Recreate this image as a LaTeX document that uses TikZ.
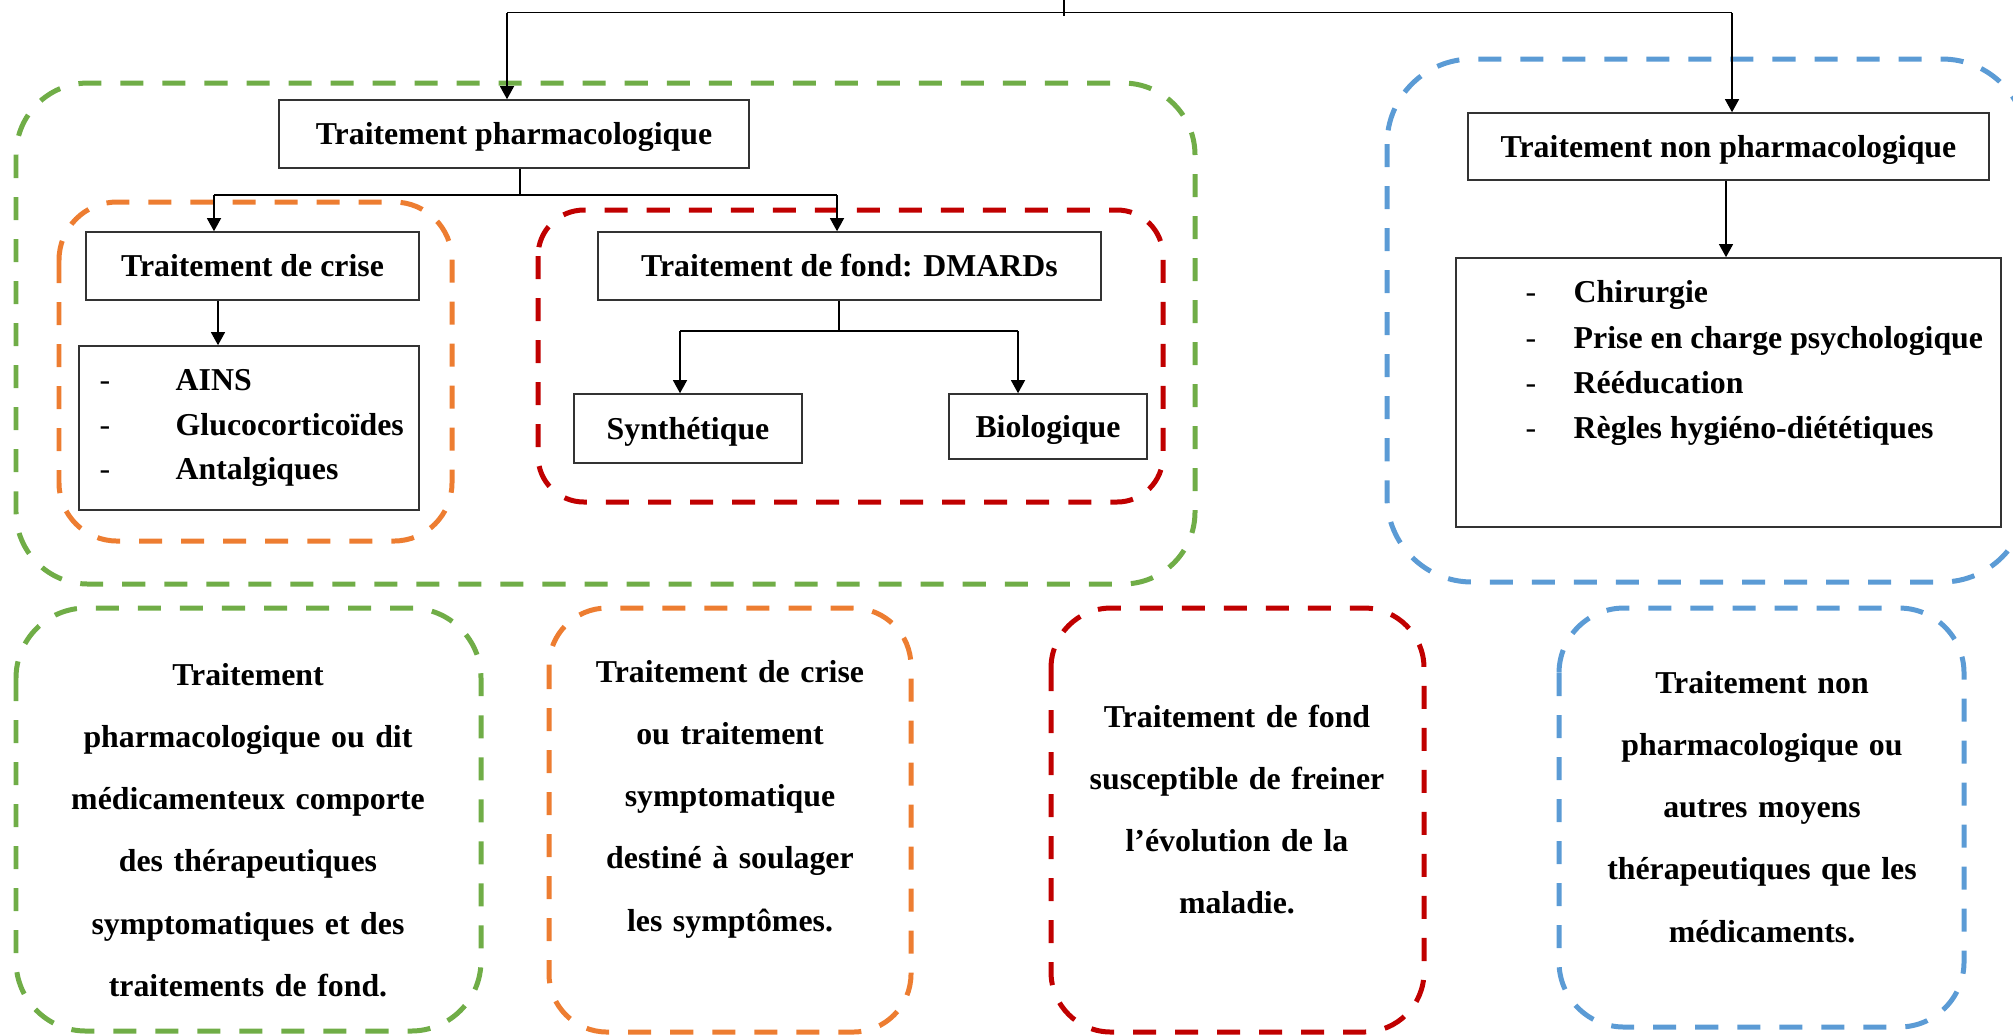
\documentclass[tikz,border=0pt]{standalone}
\usepackage{fontspec}
\setmainfont{Liberation Serif}
\usetikzlibrary{arrows.meta,calc}
\definecolor{cgreen}{HTML}{70AD47}
\definecolor{corange}{HTML}{ED7D31}
\definecolor{cred}{HTML}{C00000}
\definecolor{cblue}{HTML}{5B9BD5}

\begin{document}
\begin{tikzpicture}[x=0.01cm,y=-0.01cm,
  txt/.style={font=\fontsize{9.05pt}{12.8pt}\selectfont\bfseries, inner sep=0pt},
  box/.style={txt, draw=black!80, fill=white, line width=0.45pt,
              text height=0.21cm, text depth=0cm},
  group/.style={line width=1.42pt, dash pattern=on 0.23cm off 0.19cm},
  link/.style={line width=0.35pt, black},
  arrow/.style={link, -{Triangle[length=0.13cm,width=0.14cm]}},
  note/.style={inner sep=0pt, align=center, anchor=base,
               font=\fontsize{9.05pt}{17.7pt}\selectfont\bfseries},
  dashmark/.style={txt, anchor=base west, font=\fontsize{9.05pt}{12.8pt}\selectfont},
  item/.style={txt, anchor=base west},
]
\clip (0,0) rectangle (2013,1035);

% dashed groupings
\draw[group, cgreen,  rounded corners=0.72cm] (16,83)   rectangle (1195,584);
\draw[group, corange, rounded corners=0.58cm] (59,202)  rectangle (452,541);
\draw[group, cred,    rounded corners=0.46cm] (538,210) rectangle (1163,502);
\draw[group, cblue,   rounded corners=0.85cm] (1387,59) rectangle (2027,582);

\draw[group, cgreen,  rounded corners=0.70cm] (16,608)   rectangle (481,1031);
\draw[group, corange, rounded corners=0.58cm] (549,608)  rectangle (911,1032);
\draw[group, cred,    rounded corners=0.60cm] (1051,608) rectangle (1424,1032);
\draw[group, cblue,   rounded corners=0.65cm] (1559,608) rectangle (1964,1027);

% boxes
\node[box, minimum width=4.70cm, minimum height=0.68cm] (pharm)    at (514,134)    {Traitement pharmacologique};
\node[box, minimum width=3.33cm, minimum height=0.68cm] (crise)    at (252.5,266)  {Traitement de crise};
\node[box, minimum width=3.40cm, minimum height=1.64cm] (crlist)   at (249,428)    {};
\node[box, minimum width=5.03cm, minimum height=0.68cm] (dmards)   at (849.5,266)  {Traitement de fond: DMARDs};
\node[box, minimum width=2.28cm, minimum height=0.69cm] (synth)    at (688,428.5)  {Synthétique};
\node[box, minimum width=1.98cm, minimum height=0.65cm] (bio)      at (1048,426.5) {Biologique};
\node[box, minimum width=5.21cm, minimum height=0.67cm] (nonpharm) at (1728.5,146.5) {Traitement non pharmacologique};
\node[box, minimum width=5.45cm, minimum height=2.69cm] (nplist)   at (1728.5,392.5) {};

% list of crisis drugs
\node[dashmark] (cd1) at (99,390) {-};
\node[dashmark] (cd2) at (99,435) {-};
\node[dashmark] (cd3) at (99,479) {-};
\node[item] (ci1) at (175,390) {AINS};
\node[item] (ci2) at (175,435) {Glucocorticoïdes};
\node[item] (ci3) at (175,479) {Antalgiques};

% list of non drug treatments
\node[dashmark] (nd1) at (1525,302) {-};
\node[dashmark] (nd2) at (1525,348) {-};
\node[dashmark] (nd3) at (1525,393) {-};
\node[dashmark] (nd4) at (1525,438) {-};
\node[item] (ni1) at (1573,302) {Chirurgie};
\node[item] (ni2) at (1573,348) {Prise en charge psychologique};
\node[item] (ni3) at (1573,393) {Rééducation};
\node[item] (ni4) at (1573,438) {Règles hygiéno-diététiques};

% explanatory notes
\node[note, text width=4.4cm] (ngreen) at (248,685)
  {Traitement\\pharmacologique ou dit\\médicamenteux comporte\\des thérapeutiques\\symptomatiques et des\\traitements de fond.};
\node[note, text width=3.4cm] (norange) at (730,682)
  {Traitement de crise\\ou traitement\\symptomatique\\destiné à soulager\\les symptômes.};
\node[note, text width=3.5cm] (nred) at (1237,727)
  {Traitement de fond\\susceptible de freiner\\l’évolution de la\\maladie.};
\node[note, text width=3.9cm] (nblue) at (1762,693)
  {Traitement non\\pharmacologique ou\\autres moyens\\thérapeutiques que les\\médicaments.};

% top branching
\coordinate (jL) at (507,12.7);
\coordinate (jR) at (1732,12.7);
\coordinate (jT) at (1064,0);
\coordinate (jB) at (1064,16);
\draw[link] (jL) -- (jR);
\draw[link] (jT) -- (jB);
\draw[arrow] (jL) -- (jL |- pharm.north);
\draw[arrow] (jR) -- (jR |- nonpharm.north);

% pharmacological branching
\coordinate (pM) at (520,195);
\coordinate (pL) at (214,195);
\coordinate (pR) at (837,195);
\draw[link] (pM |- pharm.south) -- (pM);
\draw[link] (pL) -- (pR);
\draw[arrow] (pL) -- (pL |- crise.north);
\draw[arrow] (pR) -- (pR |- dmards.north);
\draw[arrow] ($(crise.south)+(-34.5,0)$) -- ($(crlist.north)+(-31,0)$);

% DMARDs branching
\coordinate (dM) at (839,331);
\coordinate (dL) at (680,331);
\coordinate (dR) at (1018,331);
\draw[link] (dM |- dmards.south) -- (dM);
\draw[link] (dL) -- (dR);
\draw[arrow] (dL) -- (dL |- synth.north);
\draw[arrow] (dR) -- (dR |- bio.north);

% non pharmacological branch
\draw[arrow] ($(nonpharm.south)+(-2.5,0)$) -- ($(nplist.north)+(-2.5,0)$);
\end{tikzpicture}
\end{document}
